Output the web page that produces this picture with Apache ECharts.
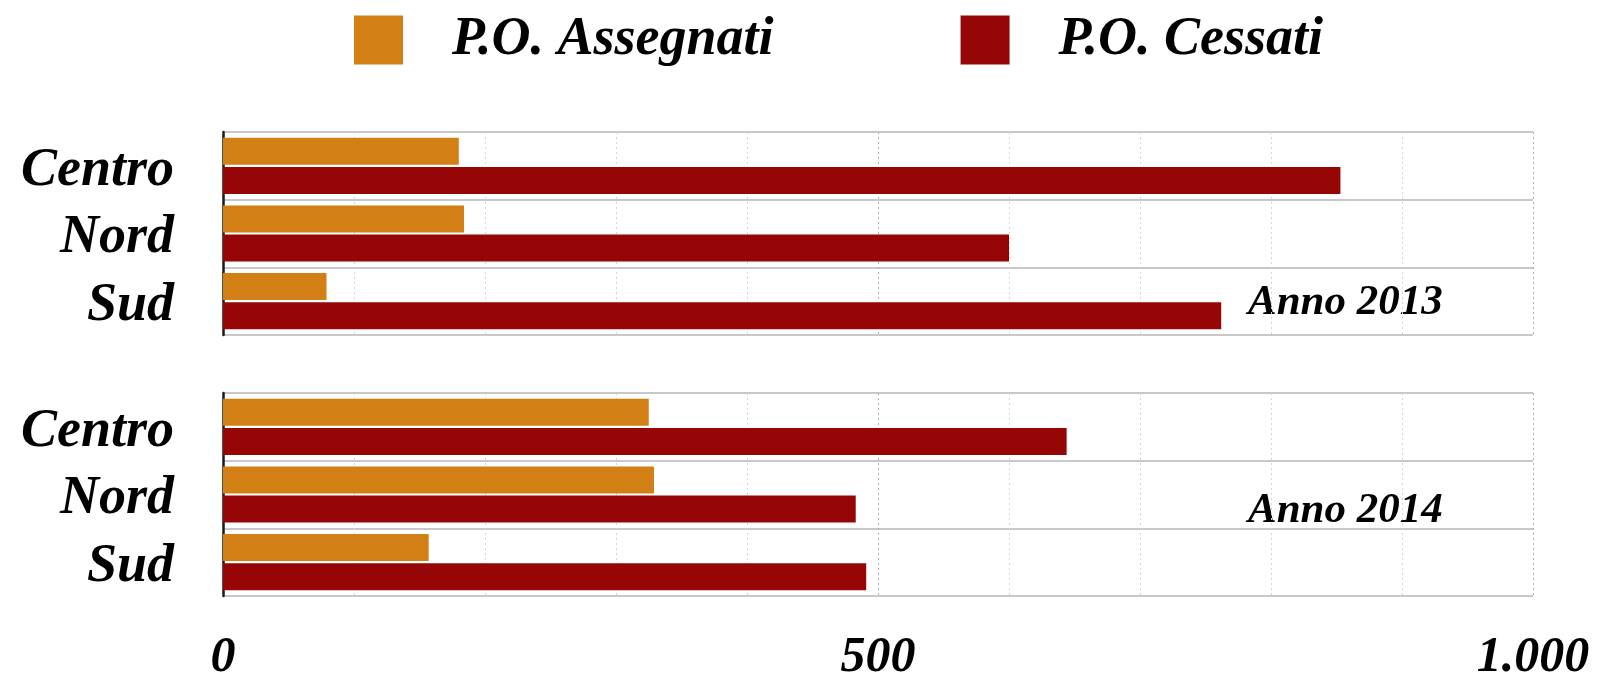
<!DOCTYPE html>
<html>
<head>
<meta charset="utf-8">
<script src="https://cdn.jsdelivr.net/npm/echarts@6/dist/echarts.min.js"></script>
<style>
  html, body { margin: 0; padding: 0; background: #fff; }
  #chart { width: 1621px; height: 678px; }
</style>
</head>
<body>
<div id="chart"></div>
<script>
// areas, top to bottom
const areas = ["Centro", "Nord", "Sud"];
const seriesNames = ["P.O. Assegnati", "P.O. Cessati"];

// 2013
const assegnati2013 = [180, 184, 79];
const cessati2013 = [853, 600, 762];
// 2014
const assegnati2014 = [325, 329, 157];
const cessati2014 = [644, 483, 491];

const yearLabels = ["Anno 2013", "Anno 2014"];
const tickValues = [0, 500, 1000];
const tickLabels = ["0", "500", "1.000"];

const FONT = '"Liberation Serif", "Times New Roman", serif';
const ORANGE = "#d27f16";
const RED = "#970606";

const chart = echarts.init(document.getElementById("chart"));

const grids = [
  { left: 223, right: 88, top: 132, height: 203, outerBoundsMode: "none" },
  { left: 223, right: 88, top: 393, height: 203, outerBoundsMode: "none" },
];

const xAxisFor = (gi, showLabels) => ({
  type: "value",
  gridIndex: gi,
  min: 0,
  max: 1000,
  interval: 100,
  axisLine: { show: false },
  axisTick: { show: false },
  axisLabel: {
    show: showLabels,
    margin: 37,
    fontFamily: FONT,
    fontWeight: "bold",
    fontStyle: "italic",
    fontSize: 50,
    color: "#000",
    formatter: (v) => {
      const i = tickValues.indexOf(v);
      return i >= 0 ? tickLabels[i] : "";
    },
  },
  splitLine: {
    show: true,
    lineStyle: {
      type: [2, 3],
      width: 1,
      color: ["#b0b0b0", "#d4d4d4", "#d4d4d4", "#d4d4d4", "#d4d4d4"],
    },
  },
});

const yAxisFor = (gi) => ({
  type: "category",
  gridIndex: gi,
  data: areas,
  inverse: true,
  axisLine: { show: true, lineStyle: { color: "#1a1a1a", width: 2.5 } },
  axisTick: { show: false, interval: 0 },
  axisLabel: {
    interval: 0,
    hideOverlap: false,
    margin: 49,
    formatter: (v) => "{a|" + v + "}",
    rich: {
      a: {
        padding: [10, 0, 0, 0],
        fontFamily: FONT,
        fontWeight: "bold",
        fontStyle: "italic",
        fontSize: 54,
        color: "#000",
      },
    },
  },
  splitLine: { show: true, interval: 0, lineStyle: { color: "#c8c8c8", width: 2 } },
});

const barBase = { type: "bar", barWidth: 27, barGap: "8%" };

const option = {
  backgroundColor: "#fff",
  animation: false,
  legend: {
    data: seriesNames,
    left: 349,
    top: 8,
    itemWidth: 49,
    itemHeight: 49,
    itemGap: 187,
    icon: "rect",
    textStyle: {
      fontFamily: FONT,
      fontWeight: "bold",
      fontStyle: "italic",
      fontSize: 54,
      color: "#000",
      padding: [0, 0, 0, 44],
    },
  },
  grid: grids,
  xAxis: [xAxisFor(0, false), xAxisFor(1, true)],
  yAxis: [yAxisFor(0), yAxisFor(1)],
  series: [
    { ...barBase, name: seriesNames[0], xAxisIndex: 0, yAxisIndex: 0, data: assegnati2013, itemStyle: { color: ORANGE } },
    { ...barBase, name: seriesNames[1], xAxisIndex: 0, yAxisIndex: 0, data: cessati2013, itemStyle: { color: RED } },
    { ...barBase, name: seriesNames[0], xAxisIndex: 1, yAxisIndex: 1, data: assegnati2014, itemStyle: { color: ORANGE } },
    { ...barBase, name: seriesNames[1], xAxisIndex: 1, yAxisIndex: 1, data: cessati2014, itemStyle: { color: RED } },
  ],
  graphic: yearLabels.map((t, i) => ({
    type: "text",
    left: 1248,
    top: i === 0 ? 281 : 489,
    style: {
      text: t,
      font: "italic bold 43px " + FONT,
      fill: "#000",
    },
  })),
};

chart.setOption(option);
window.addEventListener("resize", () => chart.resize());
</script>
</body>
</html>
